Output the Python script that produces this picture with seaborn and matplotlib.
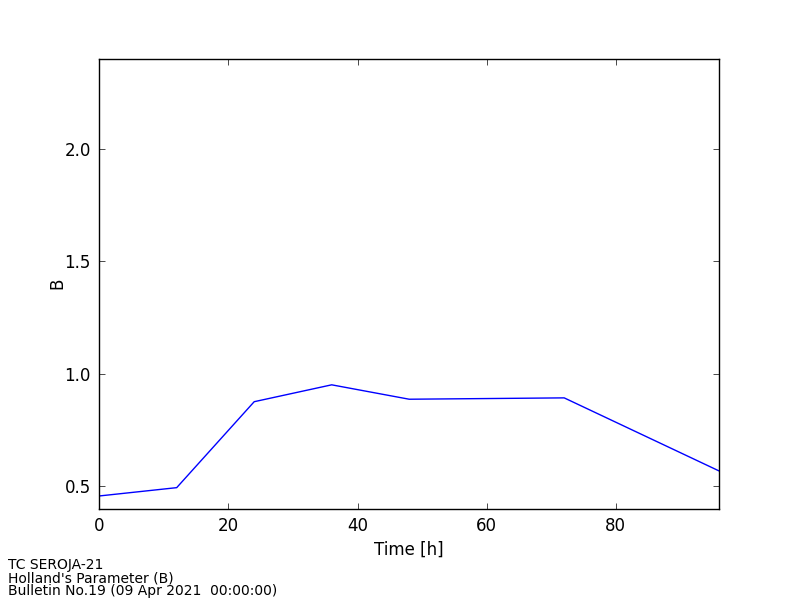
import matplotlib
matplotlib.use("Agg")
import matplotlib.pyplot as plt
import seaborn as sns
import pandas as pd

# forecast hours and Holland B parameter
hours = [0, 12, 24, 36, 48, 60, 72, 96]
b_values = [0.457, 0.494, 0.876, 0.951, 0.887, 0.890, 0.893, 0.568]
footer_lines = ["TC SEROJA-21", "Holland's Parameter (B)", "Bulletin No.19 (09 Apr 2021  00:00:00)"]

sns.set_style("white", {"text.color": "black", "axes.labelcolor": "black",
                        "xtick.color": "black", "ytick.color": "black"})
plt.rcParams['font.family'] = ['DejaVu Sans']

df = pd.DataFrame({"Time [h]": hours, "B": b_values})

fig = plt.figure(figsize=(8, 6), dpi=100)
ax = fig.add_axes([0.124, 0.152, 0.775, 0.75])
sns.lineplot(data=df, x="Time [h]", y="B", ax=ax, color="blue", linewidth=1.0)

ax.set_xlim(0, 96)
ax.set_ylim(0.4, 2.4)
ax.set_xticks([0, 20, 40, 60, 80])
ax.set_yticks([0.5, 1.0, 1.5, 2.0])
ax.set_xlabel("Time [h]", fontsize=12, color="black")
ax.set_ylabel("B", fontsize=12, color="black", labelpad=-1)
ax.tick_params(direction="in", length=4, width=0.5, labelsize=12, top=True, right=True,
               bottom=True, left=True, color="black", labelcolor="black", pad=6)
for sp in ax.spines.values():
    sp.set_visible(True)
    sp.set_color("black")
    sp.set_linewidth(1.0)

fig.text(0.01, 0.003, "\n".join(footer_lines), fontsize=10, ha="left", va="bottom",
         linespacing=0.9, color="black")

fig.savefig("out.png", dpi=100)
